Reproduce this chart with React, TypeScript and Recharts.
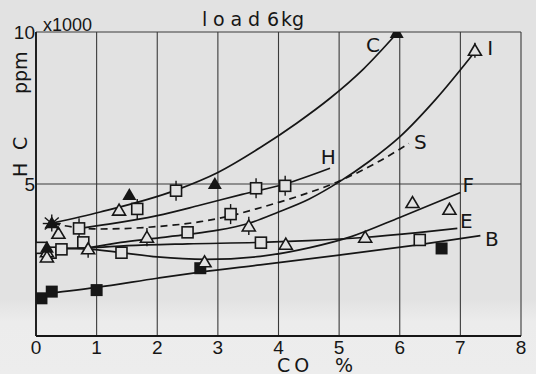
import React from 'react';
import { ComposedChart, Line, Scatter, XAxis, YAxis, CartesianGrid, ErrorBar, ReferenceDot } from 'recharts';

const FONT = "'Liberation Sans', Arial, sans-serif";
const WIDE = "'DejaVu Sans', Verdana, sans-serif";
const INK = '#161616';
const PAPER = '#e2e2e2';

const xTicks = [0, 1, 2, 3, 4, 5, 6, 7, 8];
const yTicks = [5, 10];

// fitted curves (CO %, HC x1000 ppm)
const curveC = [
  { x: 0.28, y: 3.72 }, { x: 1.06, y: 4.08 }, { x: 2.31, y: 4.8 }, { x: 3.0, y: 5.38 },
  { x: 3.7, y: 6.2 }, { x: 4.3, y: 7.0 }, { x: 4.85, y: 7.82 }, { x: 5.4, y: 8.78 }, { x: 5.95, y: 9.95 },
];
const curveH = [
  { x: 0.71, y: 3.54 }, { x: 1.2, y: 3.68 }, { x: 2.0, y: 3.96 }, { x: 2.7, y: 4.3 },
  { x: 3.4, y: 4.66 }, { x: 4.1, y: 5.0 }, { x: 4.85, y: 5.52 },
];
const curveS = [
  { x: 0.28, y: 3.7 }, { x: 0.71, y: 3.56 }, { x: 1.06, y: 3.52 }, { x: 2.0, y: 3.6 },
  { x: 2.71, y: 3.76 }, { x: 3.2, y: 3.95 }, { x: 3.7, y: 4.22 }, { x: 4.36, y: 4.62 },
  { x: 4.96, y: 5.06 }, { x: 5.6, y: 5.68 }, { x: 6.15, y: 6.33 },
];
const curveI = [
  { x: 0.86, y: 2.9 }, { x: 1.4, y: 3.08 }, { x: 2.0, y: 3.22 }, { x: 2.5, y: 3.34 },
  { x: 3.0, y: 3.48 }, { x: 3.5, y: 3.7 }, { x: 4.0, y: 4.08 }, { x: 4.5, y: 4.5 },
  { x: 5.0, y: 5.07 }, { x: 5.5, y: 5.75 }, { x: 6.0, y: 6.55 }, { x: 6.6, y: 7.8 }, { x: 7.24, y: 9.35 },
];
const curveE = [
  { x: 0.4, y: 2.88 }, { x: 0.86, y: 2.9 }, { x: 1.5, y: 2.97 }, { x: 2.5, y: 3.03 },
  { x: 3.7, y: 3.08 }, { x: 4.5, y: 3.14 }, { x: 5.4, y: 3.24 }, { x: 6.3, y: 3.4 }, { x: 6.95, y: 3.54 },
];
const curveF = [
  { x: 0.4, y: 2.88 }, { x: 0.86, y: 2.86 }, { x: 1.41, y: 2.74 }, { x: 2.0, y: 2.6 },
  { x: 2.8, y: 2.52 }, { x: 3.7, y: 2.62 }, { x: 4.5, y: 2.9 }, { x: 5.2, y: 3.27 },
  { x: 6.0, y: 3.9 }, { x: 7.0, y: 4.72 },
];
const curveB = [
  { x: 0.18, y: 1.4 }, { x: 1.0, y: 1.6 }, { x: 2.0, y: 1.9 }, { x: 2.71, y: 2.1 },
  { x: 3.7, y: 2.34 }, { x: 5.0, y: 2.66 }, { x: 6.3, y: 3.0 }, { x: 7.33, y: 3.3 },
];

// measured points
const filledTriangles = [
  { x: 0.18, y: 2.9 }, { x: 1.54, y: 4.64 }, { x: 2.95, y: 5.0 }, { x: 5.95, y: 9.97 },
];
const openTriangles = [
  { x: 0.37, y: 3.38, err: 0 }, { x: 0.18, y: 2.77, err: 0 }, { x: 0.18, y: 2.6, err: 0 },
  { x: 0.86, y: 2.87, err: 0.3 }, { x: 1.37, y: 4.14, err: 0 }, { x: 1.83, y: 3.25, err: 0.3 },
  { x: 2.78, y: 2.44, err: 0 }, { x: 3.51, y: 3.62, err: 0.3 }, { x: 4.12, y: 3.02, err: 0 },
  { x: 5.43, y: 3.25, err: 0 }, { x: 6.21, y: 4.39, err: 0 }, { x: 6.82, y: 4.17, err: 0 },
  { x: 7.24, y: 9.4, err: 0.25 },
];
const openSquares = [
  { x: 0.09, y: 2.9, err: 0 }, { x: 0.24, y: 2.74, err: 0 }, { x: 0.42, y: 2.85, err: 0 },
  { x: 0.78, y: 3.08, err: 0 }, { x: 0.71, y: 3.54, err: 0.33 }, { x: 1.67, y: 4.18, err: 0.33 },
  { x: 2.31, y: 4.78, err: 0.33 }, { x: 3.63, y: 4.86, err: 0.33 }, { x: 4.11, y: 4.94, err: 0.33 },
  { x: 3.21, y: 4.01, err: 0.33 }, { x: 2.5, y: 3.41, err: 0 }, { x: 1.41, y: 2.74, err: 0 },
  { x: 3.71, y: 3.07, err: 0 }, { x: 6.33, y: 3.16, err: 0 },
];
const filledSquares = [
  { x: 0.09, y: 1.24 }, { x: 0.26, y: 1.46 }, { x: 1.0, y: 1.51 }, { x: 2.71, y: 2.23 }, { x: 6.69, y: 2.88 },
];
const starPoints = [{ x: 0.26, y: 3.7 }];

const curveLabels = [
  { name: 'C', x: 5.56, y: 9.57 }, { name: 'I', x: 7.49, y: 9.47 }, { name: 'S', x: 6.34, y: 6.38 },
  { name: 'H', x: 4.82, y: 5.89 }, { name: 'F', x: 7.13, y: 4.97 }, { name: 'E', x: 7.1, y: 3.78 },
  { name: 'B', x: 7.52, y: 3.19 },
];

const curves = [
  { key: 'C', data: curveC, dash: undefined },
  { key: 'H', data: curveH, dash: undefined },
  { key: 'S', data: curveS, dash: '7 5' },
  { key: 'I', data: curveI, dash: undefined },
  { key: 'E', data: curveE, dash: undefined },
  { key: 'F', data: curveF, dash: undefined },
  { key: 'B', data: curveB, dash: undefined },
];

const OpenSquare = (p: any) => (
  <rect x={p.cx - 5.5} y={p.cy - 5.5} width={11} height={11} fill={PAPER} stroke={INK} strokeWidth={1.6} />
);
const FilledSquare = (p: any) => (
  <rect x={p.cx - 6} y={p.cy - 6} width={12} height={12} fill={INK} />
);
const OpenTriangle = (p: any) => (
  <polygon points={`${p.cx},${p.cy - 6} ${p.cx - 6.5},${p.cy + 5} ${p.cx + 6.5},${p.cy + 5}`} fill={PAPER} stroke={INK} strokeWidth={1.6} />
);
const FilledTriangle = (p: any) => (
  <polygon points={`${p.cx},${p.cy - 7} ${p.cx - 7},${p.cy + 5} ${p.cx + 7},${p.cy + 5}`} fill={INK} />
);
const Star = (p: any) => (
  <g stroke={INK} strokeWidth={1.4}>
    <polygon points={`${p.cx},${p.cy - 6} ${p.cx - 6},${p.cy + 4} ${p.cx + 6},${p.cy + 4}`} fill={INK} />
    <line x1={p.cx - 9} y1={p.cy} x2={p.cx + 9} y2={p.cy} />
    <line x1={p.cx - 7} y1={p.cy - 6} x2={p.cx + 7} y2={p.cy + 6} />
    <line x1={p.cx - 7} y1={p.cy + 6} x2={p.cx + 7} y2={p.cy - 6} />
    <line x1={p.cx} y1={p.cy - 9} x2={p.cx} y2={p.cy + 8} />
  </g>
);

export default function App() {
  return (
    <div
      style={{
        position: 'absolute', left: 0, top: 0, width: 536, height: 374, overflow: 'hidden',
        background: `linear-gradient(to bottom, ${PAPER} 0%, ${PAPER} 80%, #ececec 86%, #ededed 100%)`,
        fontFamily: FONT,
      }}
    >
      <ComposedChart width={536} height={374} margin={{ top: 32, right: 15, bottom: 0, left: 0 }}>
        <CartesianGrid stroke="#3a3a3a" strokeWidth={1.1} />
        <XAxis
          dataKey="x" type="number" domain={[0, 8]} ticks={xTicks} allowDataOverflow
          height={38} tickLine={false} tickSize={0} tickMargin={5}
          axisLine={{ stroke: INK, strokeWidth: 1.8 }}
          tick={{ fill: INK, fontSize: 19, fontFamily: FONT }}
        />
        <YAxis
          type="number" domain={[0, 10]} ticks={yTicks} allowDataOverflow
          width={36} tickLine={false} tickSize={0} tickMargin={1}
          axisLine={{ stroke: INK, strokeWidth: 1.8 }}
          tick={{ fill: INK, fontSize: 19, fontFamily: FONT }}
        />
        {curves.map(c => (
          <Line
            key={c.key} data={c.data} dataKey="y" type="monotone" dot={false}
            stroke={INK} strokeWidth={1.7} strokeDasharray={c.dash} isAnimationActive={false}
          />
        ))}
        <Scatter data={filledSquares} dataKey="y" shape={FilledSquare} isAnimationActive={false} />
        <Scatter data={openSquares} dataKey="y" shape={OpenSquare} isAnimationActive={false}>
          <ErrorBar dataKey="err" direction="y" width={0} stroke={INK} strokeWidth={1.4} />
        </Scatter>
        <Scatter data={openTriangles} dataKey="y" shape={OpenTriangle} isAnimationActive={false}>
          <ErrorBar dataKey="err" direction="y" width={0} stroke={INK} strokeWidth={1.4} />
        </Scatter>
        <Scatter data={filledTriangles} dataKey="y" shape={FilledTriangle} isAnimationActive={false} />
        <Scatter data={starPoints} dataKey="y" shape={Star} isAnimationActive={false} />
        {curveLabels.map(l => (
          <ReferenceDot
            key={l.name} x={l.x} y={l.y} r={0} stroke="none"
            label={{ value: l.name, position: 'center', fill: INK, fontSize: 20, fontFamily: WIDE }}
          />
        ))}
      </ComposedChart>
      <svg width={536} height={374} style={{ position: 'absolute', left: 0, top: 0, pointerEvents: 'none' }}>
        <g fill={INK} fontFamily={WIDE}>
          <text x={202} y={26} fontSize={19} textLength={58} lengthAdjust="spacing">load</text>
          <text x={267} y={26} fontSize={19}>6<tspan dx={2}>kg</tspan></text>
          <text x={43} y={31} fontSize={18} fontFamily={FONT} textLength={49} lengthAdjust="spacingAndGlyphs">x1000</text>
          <g transform="translate(27,177) rotate(-90)">
            <text x={0} y={0} fontSize={19}>H</text>
            <text x={27} y={0} fontSize={19}>C</text>
            <text x={83} y={0} fontSize={19}>ppm</text>
          </g>
          <text x={277} y={372} fontSize={19}>C<tspan dx={4}>O</tspan></text>
          <text x={335} y={372} fontSize={19}>%</text>
        </g>
      </svg>
    </div>
  );
}
